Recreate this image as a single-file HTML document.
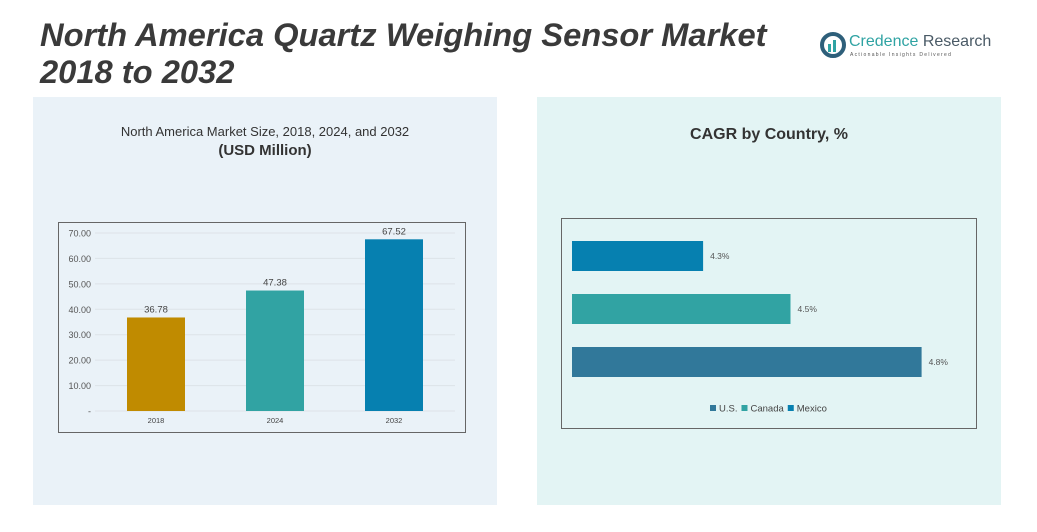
<!DOCTYPE html>
<html><head><meta charset="utf-8"><style>
body{margin:0;width:1037px;height:532px;background:#fff;position:relative;overflow:hidden;font-family:"Liberation Sans",sans-serif}
.abs{position:absolute}
</style></head><body>
<div class="abs" style="left:40px;top:16px;font-size:32.7px;font-weight:bold;font-style:italic;color:#3a3a3a;line-height:37px;white-space:nowrap">North America Quartz Weighing Sensor Market<br>2018 to 2032</div>
<div class="abs" style="left:820px;top:32px;width:170px;height:30px">
<svg width="26" height="26" style="position:absolute;left:0;top:0"><circle cx="13" cy="13" r="11" fill="none" stroke="#2e5f7a" stroke-width="4"/><rect x="8" y="12" width="3" height="8" fill="#2fa3a3"/><rect x="13" y="8" width="3" height="12" fill="#2fa3a3"/></svg>
<div class="abs" style="left:29px;top:1px;font-size:16px;color:#2fa3a3;white-space:nowrap">Credence <span style="color:#4a5a66">Research</span></div>
<div class="abs" style="left:30px;top:20px;font-size:5px;letter-spacing:1.3px;color:#555;white-space:nowrap">Actionable Insights Delivered</div>
</div>
<div class="abs" style="left:33px;top:97px;width:464px;height:408px;background:#eaf2f8"></div>
<div class="abs" style="left:537px;top:97px;width:464px;height:408px;background:#e3f4f4"></div>
<div class="abs" style="left:33px;top:124px;width:464px;text-align:center;font-size:13px;color:#333">North America Market Size, 2018, 2024, and 2032<br><b style="font-size:15px;line-height:24px">(USD Million)</b></div>
<div class="abs" style="left:537px;top:126px;width:464px;text-align:center;font-size:16px;font-weight:bold;color:#333">CAGR by Country, %</div>
<svg id="c1" class="abs" style="left:0;top:0" width="1037" height="532"></svg>
<script>
const years=["2018","2024","2032"];
const sizes=[36.78,47.38,67.52];
const yTicks=[0,10,20,30,40,50,60,70];
const countries=["Mexico","Canada","U.S."];
const cagr=[4.3,4.5,4.8];
const legendNames=["U.S.","Canada","Mexico"];
const ns="http://www.w3.org/2000/svg";
const svg=document.getElementById('c1');
function mk(t,a,txt){const e=document.createElementNS(ns,t);for(const k in a)e.setAttribute(k,a[k]);if(txt!=null)e.textContent=txt;svg.appendChild(e);return e;}
// chart 1
const fr1=mk('rect',{x:58.5,y:222.5,width:407,height:210,fill:'none',stroke:'#666','stroke-width':1});

const y=v=>411-v*(178/70);
const xc=i=>156+i*119;
const c1=['#c08b00','#31a3a3','#0680b0'];
yTicks.forEach(t=>{
 const l=mk('line',{x1:95,x2:455,y1:y(t),y2:y(t),stroke:'#dde3e8','stroke-width':1});
 
 const tx=mk('text',{x:91,y:y(t)+3.5,'text-anchor':'end','font-size':9,fill:'#555'},t===0?'-':t.toFixed(2));
 
});
sizes.forEach((v,i)=>{
 const r=mk('rect',{x:xc(i)-29,y:y(v),width:58,height:y(0)-y(v),fill:c1[i]});
 
 const lb=mk('text',{x:xc(i),y:y(v)-5,'text-anchor':'middle','font-size':9.5,fill:'#444'},v.toFixed(2));
 
 const xl=mk('text',{x:xc(i),y:423,'text-anchor':'middle','font-size':7.5,fill:'#444'},years[i]);
 
});
// chart 2
const fr2=mk('rect',{x:561.5,y:218.5,width:415,height:210,fill:'none',stroke:'#666','stroke-width':1});

const xs=v=>572+(v-4.0)*437;
const yc=i=>256+i*53;
const c2=['#0680b0','#31a3a3','#31789a'];
cagr.forEach((v,i)=>{
 const r=mk('rect',{x:572,y:yc(i)-15,width:xs(v)-572,height:30,fill:c2[i]});
 
 const lb=mk('text',{x:xs(v)+7,y:yc(i)+3,'font-size':8.5,fill:'#555'},v.toFixed(1)+'%');
 
});
const lc=['#31789a','#31a3a3','#0680b0'];let lx=710;
legendNames.forEach((n,i)=>{
 const s=mk('rect',{x:lx,y:405,width:6,height:6,fill:lc[i]});
 
 const t=mk('text',{x:lx+9,y:411.5,'font-size':9.5,fill:'#444'},n);
 
 lx+=9+t.getComputedTextLength()+4;
});
</script>
</body></html>
